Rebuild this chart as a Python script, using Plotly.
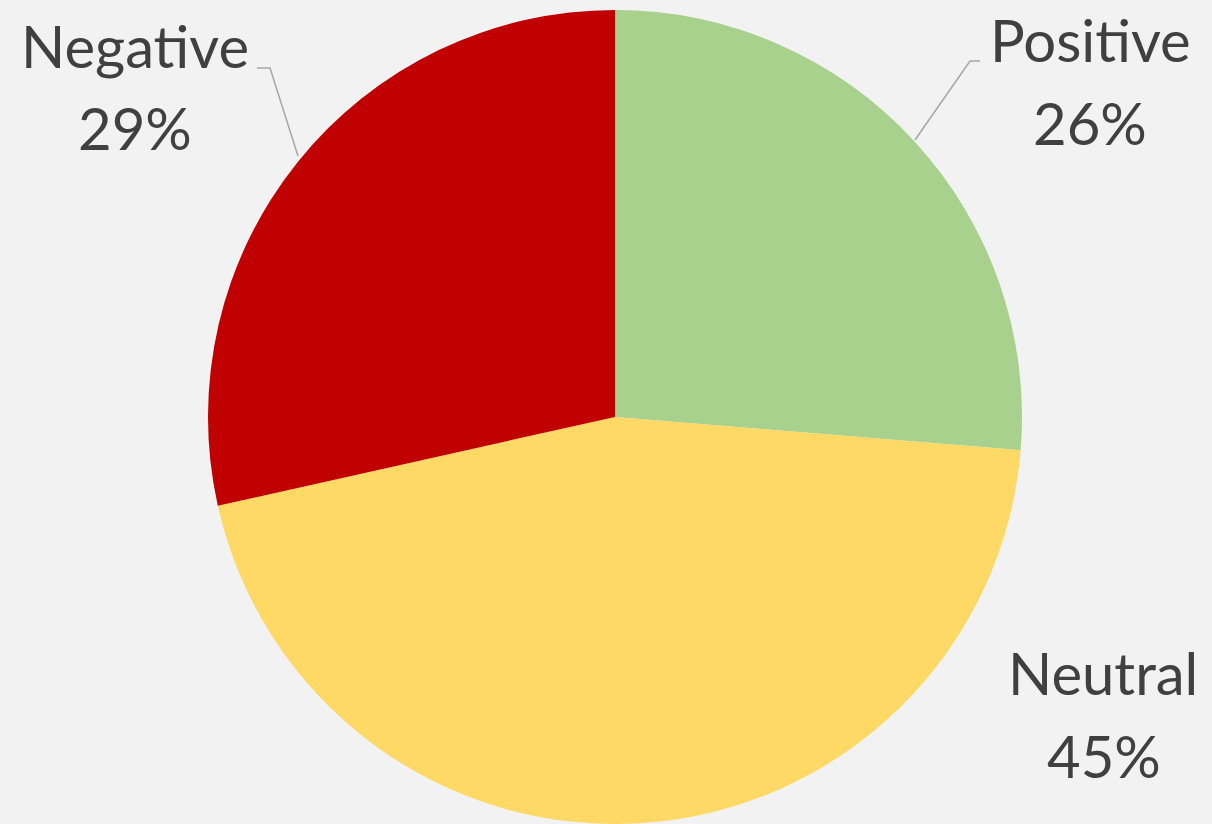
import plotly.graph_objects as go

categories = ["Positive", "Neutral", "Negative"]
values = [26.3, 45.2, 28.5]
pct_text = ["26%", "45%", "29%"]
colors = ["#A9D18E", "#FFD966", "#C00000"]

W, H = 1212, 824

fig = go.Figure(go.Pie(
    labels=categories,
    values=values,
    sort=False,
    direction="clockwise",
    rotation=0,
    marker=dict(colors=colors, line=dict(width=0)),
    textinfo="none",
    hoverinfo="label+percent",
    domain=dict(x=[208 / W, 1022 / W], y=[0.0, 0.988]),
    showlegend=False,
))

# label placement (pixel centers of name / percent lines)
label_pos = {
    "Negative": ((135, 46), (135, 128)),
    "Positive": ((1090, 40), (1090, 122)),
    "Neutral": ((1103, 672), (1104, 755)),
}
font = dict(family="Lato, Carlito, Calibri, sans-serif", size=58, color="#404040")
anns = []
for cat, pct in zip(categories, pct_text):
    (nx, ny), (px, py) = label_pos[cat]
    anns.append(dict(x=nx / W, y=1 - ny / H, xref="paper", yref="paper",
                     text=cat, showarrow=False, xanchor="center", yanchor="middle", font=font))
    anns.append(dict(x=px / W, y=1 - py / H, xref="paper", yref="paper",
                     text=pct, showarrow=False, xanchor="center", yanchor="middle", font=font))

line_style = dict(color="#A6A6A6", width=1.5)
shapes = [
    dict(type="path", xref="paper", yref="paper",
         path=f"M {257/W} {1-68/H} L {270/W} {1-68/H} L {298/W} {1-156/H}",
         line=line_style),
    dict(type="path", xref="paper", yref="paper",
         path=f"M {980/W} {1-61/H} L {970/W} {1-61/H} L {915/W} {1-140/H}",
         line=line_style),
]

fig.update_layout(
    width=W, height=H,
    margin=dict(l=0, r=0, t=0, b=0),
    paper_bgcolor="#F2F2F2",
    plot_bgcolor="#F2F2F2",
    annotations=anns,
    shapes=shapes,
)

fig.write_html(
    "out.html",
    config={"displayModeBar": False},
    post_script="document.body.style.margin='0';document.body.style.background='#F2F2F2';document.body.style.overflow='hidden';",
)
